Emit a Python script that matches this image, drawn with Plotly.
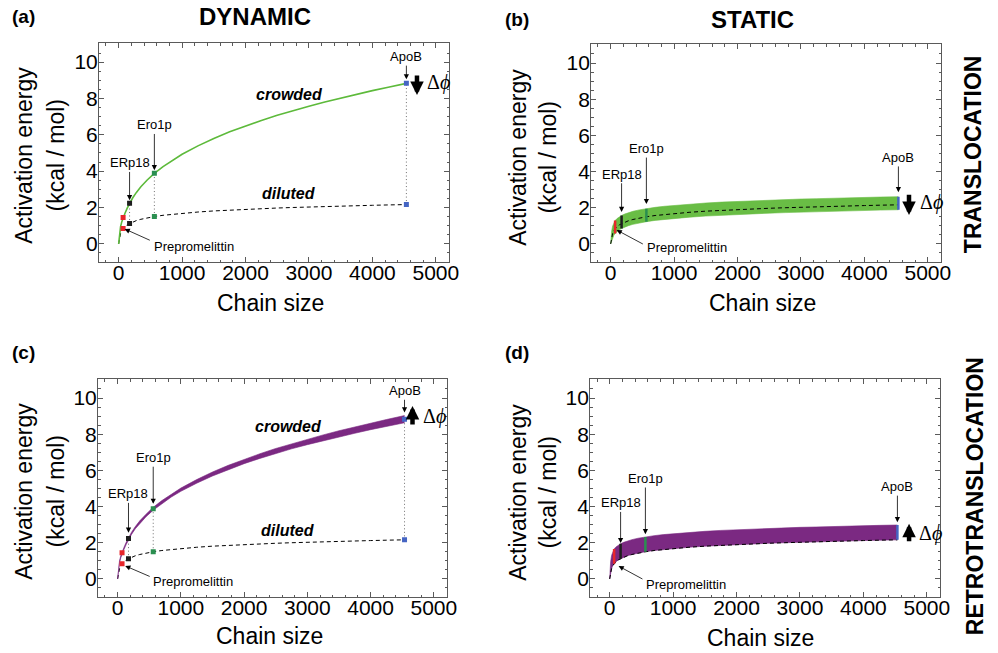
import plotly.graph_objects as go

# ---------------- data ----------------
chain_size = [0, 5, 15, 30, 50, 70, 100, 135, 172, 220, 280, 350, 450, 563, 700, 850, 1000, 1250, 1500,
              1750, 2000, 2250, 2500, 2750, 3000, 3250, 3500, 3750, 4000, 4250, 4536]
diluted = [0, 0.10, 0.35, 0.57, 0.74, 0.84, 0.95, 1.05, 1.12, 1.20, 1.28, 1.35, 1.43, 1.50, 1.57, 1.63, 1.68,
           1.75, 1.81, 1.86, 1.90, 1.94, 1.97, 2.00, 2.03, 2.05, 2.08, 2.10, 2.12, 2.14, 2.16]
crowded = [0, 0.20, 0.60, 0.95, 1.22, 1.45, 1.68, 1.96, 2.23, 2.52, 2.83, 3.14, 3.51, 3.88, 4.25, 4.61, 4.93,
           5.39, 5.80, 6.16, 6.49, 6.79, 7.07, 7.33, 7.57, 7.80, 8.02, 8.23, 8.43, 8.62, 8.83]
crowded_retro_lower = [0, 0.17, 0.55, 0.89, 1.16, 1.39, 1.62, 1.90, 2.17, 2.46, 2.77, 3.07, 3.44, 3.80, 4.17,
                       4.53, 4.84, 5.29, 5.69, 6.04, 6.37, 6.66, 6.93, 7.19, 7.42, 7.64, 7.85, 8.05, 8.25,
                       8.43, 8.63]
crowded_retro_upper = [0, 0.23, 0.65, 1.01, 1.28, 1.51, 1.74, 2.02, 2.29, 2.58, 2.89, 3.21, 3.58, 3.96, 4.33,
                       4.69, 5.02, 5.49, 5.91, 6.28, 6.61, 6.92, 7.21, 7.47, 7.72, 7.96, 8.19, 8.41, 8.61,
                       8.81, 9.03]
static_trans_lower = [0, 0.05, 0.20, 0.35, 0.48, 0.57, 0.68, 0.78, 0.85, 0.93, 1.01, 1.08, 1.16, 1.23, 1.30,
                      1.36, 1.41, 1.48, 1.54, 1.59, 1.63, 1.67, 1.70, 1.73, 1.76, 1.78, 1.81, 1.83, 1.85,
                      1.87, 1.89]
static_trans_upper = [0, 0.30, 0.70, 0.98, 1.17, 1.29, 1.40, 1.50, 1.57, 1.65, 1.73, 1.80, 1.88, 1.95, 2.02,
                      2.08, 2.13, 2.20, 2.26, 2.31, 2.35, 2.39, 2.42, 2.45, 2.48, 2.50, 2.53, 2.55, 2.57,
                      2.59, 2.61]
static_retro_upper = [0, 0.40, 0.95, 1.30, 1.52, 1.66, 1.77, 1.87, 1.94, 2.02, 2.10, 2.17, 2.25, 2.32, 2.39,
                      2.45, 2.50, 2.57, 2.63, 2.68, 2.72, 2.76, 2.79, 2.82, 2.85, 2.87, 2.90, 2.92, 2.94,
                      2.96, 2.98]

protein_names = ["Prepromelittin", "ERp18", "Ero1p", "ApoB"]
protein_sizes = [70, 172, 563, 4536]

panel_labels = ["(a)", "(b)", "(c)", "(d)"]
column_titles = ["DYNAMIC", "STATIC"]
row_titles = ["TRANSLOCATION", "RETROTRANSLOCATION"]
x_tick_values = [0, 1000, 2000, 3000, 4000, 5000]
y_tick_values = [0, 2, 4, 6, 8, 10]
x_title = "Chain size"
y_title_lines = ["Activation energy", "(kcal / mol)"]

# ---------------- styles ----------------
W, H = 998, 653
SANS = "Liberation Sans, Arial, Helvetica, sans-serif"
SERIF = "Liberation Serif, Times New Roman, serif"
GREEN_LINE = "#5dba3b"
GREEN_BAND = "#69bd45"
PURPLE = "#7b2982"
protein_colors = {"Prepromelittin": "#e8262b", "ERp18": "#1e1e1e", "Ero1p": "#2a8f50", "ApoB": "#4565c3"}
FRAME = "#5a5a5a"

idx = [chain_size.index(n) for n in protein_sizes]

domains = {
    1: ([100 / W, 454 / W], [1 - 262 / H, 1 - 43 / H]),
    2: ([597 / W, 951 / W], [1 - 262 / H, 1 - 44 / H]),
    3: ([99 / W, 452 / W], [1 - 597 / H, 1 - 379 / H]),
    4: ([596 / W, 950 / W], [1 - 597 / H, 1 - 379 / H]),
}

fig = go.Figure()


def ax_names(k):
    return ("x" if k == 1 else f"x{k}"), ("y" if k == 1 else f"y{k}")


def line(k, xs, ys, color, width=1.5, dash=None):
    xa, ya = ax_names(k)
    fig.add_trace(go.Scatter(x=xs, y=ys, mode="lines", xaxis=xa, yaxis=ya,
                             line=dict(color=color, width=width, dash=dash),
                             showlegend=False, hoverinfo="skip"))


def band(k, lower, upper, color):
    xa, ya = ax_names(k)
    fig.add_trace(go.Scatter(x=chain_size, y=lower, mode="lines", xaxis=xa, yaxis=ya,
                             line=dict(color=color, width=0.6), showlegend=False, hoverinfo="skip"))
    fig.add_trace(go.Scatter(x=chain_size, y=upper, mode="lines", xaxis=xa, yaxis=ya, fill="tonexty",
                             fillcolor=color, line=dict(color=color, width=0.6),
                             showlegend=False, hoverinfo="skip"))


def points(k, ys, size=5):
    xa, ya = ax_names(k)
    fig.add_trace(go.Scatter(x=[chain_size[i] for i in idx], y=[ys[i] for i in idx], mode="markers",
                             xaxis=xa, yaxis=ya,
                             marker=dict(symbol="square", size=size,
                                         color=[protein_colors[n] for n in protein_names]),
                             showlegend=False, hoverinfo="skip"))


def dotted_links(k, top, bottom):
    for name, i in zip(protein_names, idx):
        if name == "Prepromelittin":
            continue
        line(k, [chain_size[i], chain_size[i]], [bottom[i], top[i]], "#6f6f6f", width=1, dash="1px,2.5px")


def segments(k, lower, upper):
    for name, i in zip(protein_names, idx):
        line(k, [chain_size[i], chain_size[i]], [lower[i], upper[i]], protein_colors[name], width=2.5)


annotations = []


def txt(k, text, x, y, size=13, xanchor="center", family=SANS):
    xa, ya = ax_names(k)
    annotations.append(dict(xref=xa, yref=ya, x=x, y=y, text=text, showarrow=False, xanchor=xanchor,
                            yanchor="middle", font=dict(family=family, size=size, color="black")))


def arrow_label(k, text, tx, ty, hx, hy, size=13):
    xa, ya = ax_names(k)
    annotations.append(dict(xref=xa, yref=ya, axref=xa, ayref=ya, x=hx, y=hy, ax=tx, ay=ty, text=text,
                            showarrow=True, arrowhead=2, arrowsize=1.3, arrowwidth=0.8, arrowcolor="black",
                            standoff=0, font=dict(family=SANS, size=size, color="black")))


def big_arrow(k, x, y0, y1):
    xa, ya = ax_names(k)
    annotations.append(dict(xref=xa, yref=ya, axref=xa, ayref=ya, x=x, y=y1, ax=x, ay=y0, text="",
                            showarrow=True, arrowhead=2, arrowsize=0.6, arrowwidth=4.5,
                            arrowcolor="black", standoff=0))


def pointer(k, tx, ty, hx, hy):
    xa, ya = ax_names(k)
    annotations.append(dict(xref=xa, yref=ya, axref=xa, ayref=ya, x=hx, y=hy, ax=tx, ay=ty, text="",
                            showarrow=True, arrowhead=2, arrowsize=1.3, arrowwidth=0.8,
                            arrowcolor="black", standoff=0))


DPHI = "Δ<i>ϕ</i>"

# ---------------- panel (a): dynamic translocation ----------------
dotted_links(1, crowded, diluted)
line(1, chain_size, diluted, "black", width=1, dash="4px,3px")
line(1, chain_size, crowded, GREEN_LINE, width=1.6)
points(1, crowded)
points(1, diluted)
arrow_label(1, protein_names[3], 4536, 10.3, 4536, 9.05)
arrow_label(1, protein_names[2], 563, 6.54, 563, 4.05)
arrow_label(1, protein_names[1], 172, 4.45, 172, 2.4)
txt(1, protein_names[0], 520, -0.15, xanchor="left")
pointer(1, 515, 0.16, 94, 0.82)
txt(1, "<b><i>crowded</i></b>", 2700, 8.2, size=16)
txt(1, "<b><i>diluted</i></b>", 2690, 2.75, size=16)
big_arrow(1, 4703, 9.34, 8.19)
txt(1, DPHI, 4830, 8.9, size=20, xanchor="left", family=SERIF)

# ---------------- panel (b): static translocation ----------------
band(2, static_trans_lower, static_trans_upper, GREEN_BAND)
line(2, chain_size, diluted, "black", width=1, dash="4px,3px")
segments(2, static_trans_lower, static_trans_upper)
arrow_label(2, protein_names[3], 4536, 4.78, 4536, 2.86)
arrow_label(2, protein_names[2], 563, 5.27, 563, 2.2)
arrow_label(2, protein_names[1], 172, 3.85, 172, 1.76)
txt(2, protein_names[0], 547, -0.22, xanchor="left")
pointer(2, 531, -0.05, 94, 0.77)
big_arrow(2, 4703, 2.8, 1.6)
txt(2, DPHI, 4844, 2.3, size=20, xanchor="left", family=SERIF)

# ---------------- panel (c): dynamic retrotranslocation ----------------
dotted_links(3, crowded, diluted)
line(3, chain_size, diluted, "black", width=1, dash="4px,3px")
band(3, crowded_retro_lower, crowded_retro_upper, PURPLE)
points(3, crowded)
points(3, diluted)
arrow_label(3, protein_names[3], 4536, 10.4, 4536, 9.2)
arrow_label(3, protein_names[2], 563, 6.7, 563, 4.15)
arrow_label(3, protein_names[1], 172, 4.7, 172, 2.55)
txt(3, protein_names[0], 531, -0.17, xanchor="left")
pointer(3, 531, 0.1, 120, 0.72)
txt(3, "<b><i>crowded</i></b>", 2700, 8.4, size=16)
txt(3, "<b><i>diluted</i></b>", 2690, 2.65, size=16)
big_arrow(3, 4662, 8.45, 9.56)
txt(3, DPHI, 4800, 8.95, size=20, xanchor="left", family=SERIF)

# ---------------- panel (d): static retrotranslocation ----------------
band(4, diluted, static_retro_upper, PURPLE)
line(4, chain_size, diluted, "black", width=1, dash="4px,3px")
segments(4, diluted, static_retro_upper)
arrow_label(4, protein_names[3], 4536, 5.1, 4536, 3.13)
arrow_label(4, protein_names[2], 563, 5.55, 563, 2.47)
arrow_label(4, protein_names[1], 172, 4.2, 172, 1.98)
txt(4, protein_names[0], 547, -0.3, xanchor="left")
pointer(4, 540, -0.05, 140, 0.71)
big_arrow(4, 4720, 2.0, 3.05)
txt(4, DPHI, 4840, 2.5, size=20, xanchor="left", family=SERIF)


# ---------------- paper-level text ----------------
def ptxt(text, px, py, size, angle=0, family=SANS):
    annotations.append(dict(xref="paper", yref="paper", x=px / W, y=1 - py / H, text=text, showarrow=False,
                            xanchor="center", yanchor="middle", textangle=angle,
                            font=dict(family=family, size=size, color="black")))


ptxt(f"<b>{panel_labels[0]}</b>", 24, 16, 19)
ptxt(f"<b>{panel_labels[1]}</b>", 522, 19, 19)
ptxt(f"<b>{panel_labels[2]}</b>", 24, 352, 19)
ptxt(f"<b>{panel_labels[3]}</b>", 522, 352, 19)
ptxt(f"<b>{column_titles[0]}</b>", 258, 16, 24)
ptxt(f"<b>{column_titles[1]}</b>", 760, 19, 24)
ptxt(f"<b>{row_titles[0]}</b>", 983, 154, 23, angle=-90)
ptxt(f"<b>{row_titles[1]}</b>", 985, 496, 23, angle=-90)

for cx1, cx2, cy in [(24, 57, 155), (523, 554, 157), (24, 57, 491), (523, 554, 492)]:
    ptxt(y_title_lines[0], cx1, cy, 23, angle=-90)
    ptxt(y_title_lines[1], cx2, cy, 23, angle=-90)
for cx, cy in [(273, 303), (770, 303), (272, 636), (768, 638)]:
    ptxt(x_title, cx, cy, 23)

# ---------------- axes ----------------
layout = dict(width=W, height=H, margin=dict(l=0, r=0, t=0, b=0), paper_bgcolor="white",
              plot_bgcolor="white", annotations=annotations, showlegend=False)
for k in range(1, 5):
    xd, yd = domains[k]
    xa, ya = ax_names(k)
    xkey = "xaxis" if k == 1 else f"xaxis{k}"
    ykey = "yaxis" if k == 1 else f"yaxis{k}"
    common = dict(showline=True, linecolor=FRAME, linewidth=1, mirror="allticks", ticks="inside",
                  ticklen=5, tickcolor=FRAME, tickwidth=1, showgrid=False, zeroline=False,
                  tickfont=dict(family=SANS, size=21, color="black"), fixedrange=True)
    layout[xkey] = dict(domain=xd, anchor=ya, range=[-310, 5215], tickvals=x_tick_values,
                        ticktext=[str(v) for v in x_tick_values], ticklabelstandoff=-8,
                        minor=dict(ticks="inside", ticklen=2.5, dtick=200, tick0=0, tickcolor=FRAME),
                        **common)
    layout[ykey] = dict(domain=yd, anchor=xa, range=[-1, 11.05], tickvals=y_tick_values,
                        ticktext=[str(v) for v in y_tick_values], ticklabelstandoff=-4,
                        minor=dict(ticks="inside", ticklen=2.5, dtick=0.5, tick0=0, tickcolor=FRAME),
                        **common)

fig.update_layout(**layout)
fig.write_html("out.html")
